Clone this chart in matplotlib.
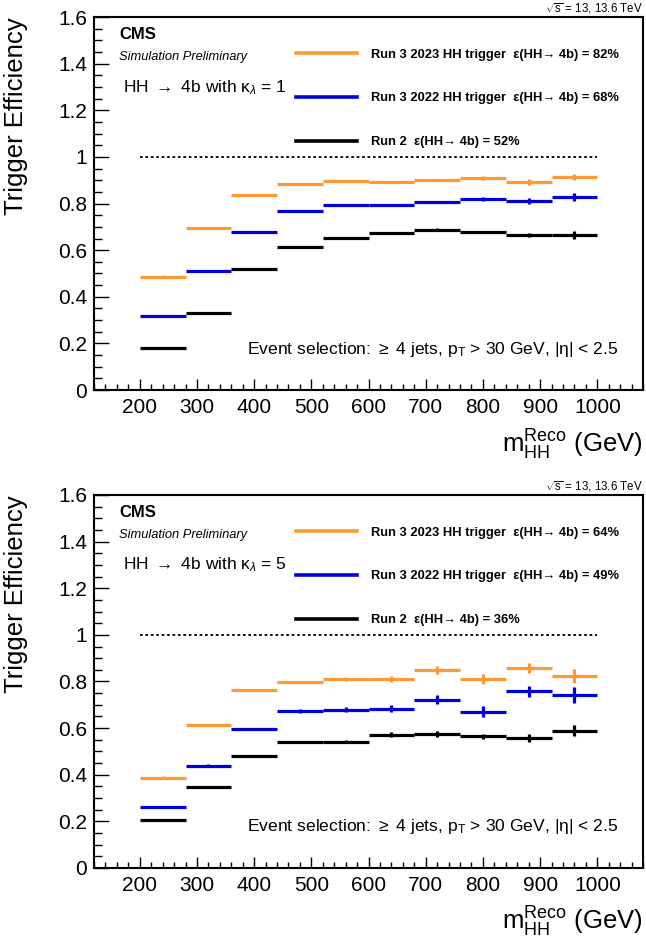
import numpy as np
import matplotlib
matplotlib.use("Agg")
import matplotlib.pyplot as plt
from matplotlib.lines import Line2D
from matplotlib.ticker import MultipleLocator

plt.rcParams['font.family'] = ['Liberation Sans', 'DejaVu Sans']
plt.rcParams['mathtext.fontset'] = 'custom'
plt.rcParams['mathtext.rm'] = 'Liberation Sans'
plt.rcParams['mathtext.it'] = 'Liberation Sans:italic'
plt.rcParams['mathtext.bf'] = 'Liberation Sans:bold'

# === DATA ===
bin_edges = [200, 280, 360, 440, 520, 600, 680, 760, 840, 920, 1000]

# kappa_lambda = 1
k1_run3_2023 = [0.487, 0.695, 0.836, 0.884, 0.897, 0.892, 0.901, 0.910, 0.893, 0.914]
k1_run3_2023_err = [0.006, 0.004, 0.003, 0.003, 0.003, 0.004, 0.005, 0.007, 0.012, 0.013]
k1_run3_2022 = [0.318, 0.511, 0.678, 0.768, 0.793, 0.794, 0.807, 0.820, 0.812, 0.828]
k1_run3_2022_err = [0.005, 0.006, 0.004, 0.003, 0.003, 0.005, 0.006, 0.009, 0.012, 0.018]
k1_run2 = [0.180, 0.330, 0.521, 0.614, 0.652, 0.674, 0.687, 0.678, 0.665, 0.665]
k1_run2_err = [0.004, 0.004, 0.004, 0.003, 0.003, 0.004, 0.006, 0.006, 0.010, 0.016]

# kappa_lambda = 5
k5_run3_2023 = [0.388, 0.614, 0.764, 0.798, 0.812, 0.811, 0.850, 0.811, 0.858, 0.823]
k5_run3_2023_err = [0.005, 0.004, 0.004, 0.006, 0.009, 0.012, 0.016, 0.022, 0.022, 0.030]
k5_run3_2022 = [0.262, 0.439, 0.597, 0.675, 0.678, 0.684, 0.721, 0.671, 0.757, 0.742]
k5_run3_2022_err = [0.004, 0.005, 0.005, 0.009, 0.011, 0.013, 0.019, 0.023, 0.025, 0.033]
k5_run2 = [0.206, 0.349, 0.481, 0.541, 0.541, 0.572, 0.574, 0.564, 0.559, 0.589]
k5_run2_err = [0.003, 0.004, 0.004, 0.004, 0.006, 0.010, 0.012, 0.012, 0.017, 0.024]

labels_k1 = ["Run 3 2023 HH trigger  ε(HH→ 4b) = 82%",
             "Run 3 2022 HH trigger  ε(HH→ 4b) = 68%",
             "Run 2  ε(HH→ 4b) = 52%"]
labels_k5 = ["Run 3 2023 HH trigger  ε(HH→ 4b) = 64%",
             "Run 3 2022 HH trigger  ε(HH→ 4b) = 49%",
             "Run 2  ε(HH→ 4b) = 36%"]

colors = ['#ff9933', '#0000dd', 'black']

edges = np.array(bin_edges)
centers = 0.5 * (edges[1:] + edges[:-1])
half_width = 0.5 * np.diff(edges)


def draw_panel(ax, series, errors, labels, kl):
    handles = []
    for vals, errs, col in zip(series, errors, colors):
        ax.errorbar(centers, vals, xerr=half_width, yerr=errs, fmt='none',
                    ecolor=col, elinewidth=2.3, capsize=0)
        handles.append(Line2D([], [], color=col, linewidth=2.6))
    ax.hlines(1.0, edges[0], edges[-1], colors='black', linestyles=(0, (1.5, 1.5)), linewidth=1.3)

    ax.set_xlim(120, 1080)
    ax.set_ylim(0, 1.6)
    ax.xaxis.set_minor_locator(MultipleLocator(20))
    ax.yaxis.set_minor_locator(MultipleLocator(0.05))
    ax.set_xticks([200, 300, 400, 500, 600, 700, 800, 900, 1000])
    ax.set_yticks([0, 0.2, 0.4, 0.6, 0.8, 1.0, 1.2, 1.4, 1.6])
    ax.set_yticklabels(['0', '0.2', '0.4', '0.6', '0.8', '1', '1.2', '1.4', '1.6'])
    ax.tick_params(which='both', direction='in', top=False, right=False, labelsize=15)
    ax.tick_params(axis='x', which='major', length=8, width=1, pad=6)
    ax.tick_params(axis='x', which='minor', length=4, width=1)
    ax.tick_params(axis='y', which='major', length=11, width=1, pad=5)
    ax.tick_params(axis='y', which='minor', length=6, width=1)
    for sp in ax.spines.values():
        sp.set_linewidth(1.5)

    ax.set_ylabel('Trigger Efficiency', fontsize=18.5, loc='top')
    ax.yaxis.set_label_coords(-0.121, 1.0)
    ax.set_xlabel(r'$\mathrm{m}_{\mathrm{HH}}^{\mathrm{Reco}}$ (GeV)', fontsize=18.5, loc='right')
    ax.xaxis.set_label_coords(1.0, -0.1)

    ax.text(0.046, 0.952, 'CMS', transform=ax.transAxes, fontsize=12, fontweight='bold', va='center')
    ax.text(0.046, 0.893, 'Simulation Preliminary', transform=ax.transAxes, fontsize=9.3,
            style='italic', va='center')
    ax.text(0.053, 0.812, r'HH $\rightarrow$ 4b with $\mathrm{\kappa}_{\lambda}$ = %d' % kl,
            transform=ax.transAxes, fontsize=12.5, va='center')
    ax.text(0.956, 0.11, r'Event selection: $\geq$ 4 jets, p$_{\mathrm{T}}$ > 30 GeV, |$\mathrm{\eta}$| < 2.5',
            transform=ax.transAxes, fontsize=12.6, ha='right', va='center')
    ax.text(1.0, 1.0125, r'$\sqrt{\mathrm{s}}$ = 13, 13.6 TeV', transform=ax.transAxes,
            fontsize=8.3, ha='right', va='baseline')

    ax.legend(handles, labels, loc='upper left', bbox_to_anchor=(0.368, 0.915),
              frameon=False, prop={'weight': 'bold', 'size': 9.3},
              handlelength=4.7, handletextpad=1.1, labelspacing=2.45, borderpad=0,
              borderaxespad=0)


fig = plt.figure(figsize=(6.46, 9.41), dpi=100)
ax1 = fig.add_axes([0.1455, 0.5855, 0.850, 0.3964])
ax2 = fig.add_axes([0.1455, 0.0776, 0.850, 0.3964])

draw_panel(ax1, [k1_run3_2023, k1_run3_2022, k1_run2],
           [k1_run3_2023_err, k1_run3_2022_err, k1_run2_err], labels_k1, 1)
draw_panel(ax2, [k5_run3_2023, k5_run3_2022, k5_run2],
           [k5_run3_2023_err, k5_run3_2022_err, k5_run2_err], labels_k5, 5)

fig.savefig('out.png', dpi=100)
